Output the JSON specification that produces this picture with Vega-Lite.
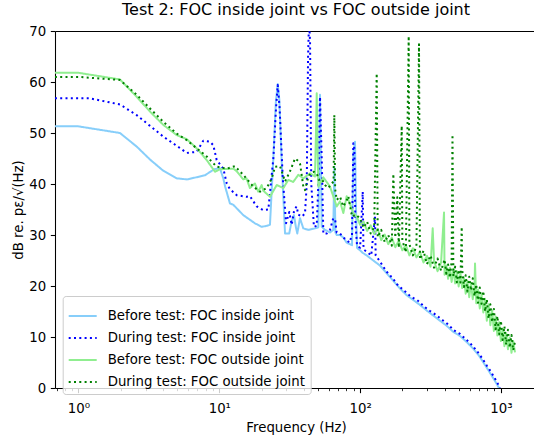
{
  "$schema": "https://vega.github.io/schema/vega-lite/v6.json",
  "width": 479,
  "height": 357,
  "autosize": {"type": "none"},
  "padding": {"left": 55, "top": 31, "right": 0, "bottom": 47},
  "background": "white",
  "title": {
    "text": "Test 2: FOC inside joint vs FOC outside joint",
    "font": "DejaVu Sans",
    "fontSize": 16,
    "fontWeight": "normal",
    "color": "black",
    "anchor": "middle",
    "frame": "group",
    "offset": 6.5,
    "dx": 1.5
  },
  "config": {
    "view": {"stroke": null},
    "font": "DejaVu Sans",
    "legend": {
      "orient": "none",
      "legendX": 7.7,
      "legendY": 265,
      "symbolType": "stroke",
      "symbolSize": 784,
      "symbolStrokeWidth": 2,
      "labelFont": "DejaVu Sans",
      "labelFontSize": 13.3,
      "labelColor": "black",
      "labelOffset": 10,
      "labelLimit": 320,
      "rowPadding": -1.1,
      "padding": 5,
      "fillColor": "rgba(255,255,255,0.8)",
      "strokeColor": "#cccccc",
      "cornerRadius": 3
    }
  },
  "datasets": {
    "spectra": [
      {"k": "A", "f": 0.68, "v": 51.3}, {"k": "A", "f": 1.0, "v": 51.3}, {"k": "A", "f": 1.97, "v": 50.0},
      {"k": "A", "f": 2.6, "v": 47.3}, {"k": "A", "f": 3.22, "v": 44.8}, {"k": "A", "f": 4.0, "v": 42.6},
      {"k": "A", "f": 5.0, "v": 41.1}, {"k": "A", "f": 5.9, "v": 40.9}, {"k": "A", "f": 7.9, "v": 41.7},
      {"k": "A", "f": 9.2, "v": 42.9}, {"k": "A", "f": 10.1, "v": 43.1}, {"k": "A", "f": 10.7, "v": 41.0},
      {"k": "A", "f": 11.0, "v": 39.5}, {"k": "A", "f": 11.9, "v": 36.2}, {"k": "A", "f": 12.6, "v": 35.9},
      {"k": "A", "f": 14.8, "v": 33.9}, {"k": "A", "f": 17.9, "v": 32.3}, {"k": "A", "f": 20.0, "v": 31.6},
      {"k": "A", "f": 21.7, "v": 31.8}, {"k": "A", "f": 22.9, "v": 32.0}, {"k": "A", "f": 24.2, "v": 45.0},
      {"k": "A", "f": 25.2, "v": 56.0}, {"k": "A", "f": 26.0, "v": 59.6}, {"k": "A", "f": 26.7, "v": 56.5},
      {"k": "A", "f": 27.7, "v": 44.7}, {"k": "A", "f": 29.3, "v": 30.3}, {"k": "A", "f": 31.4, "v": 30.3},
      {"k": "A", "f": 32.5, "v": 32.5}, {"k": "A", "f": 33.9, "v": 33.9}, {"k": "A", "f": 35.0, "v": 31.5},
      {"k": "A", "f": 35.8, "v": 30.3}, {"k": "A", "f": 37.4, "v": 33.3}, {"k": "A", "f": 39.5, "v": 31.3},
      {"k": "A", "f": 43.0, "v": 31.0}, {"k": "A", "f": 47.8, "v": 31.3}, {"k": "A", "f": 50.5, "v": 31.5},
      {"k": "A", "f": 51.9, "v": 57.5}, {"k": "A", "f": 53.4, "v": 31.6}, {"k": "A", "f": 56.3, "v": 31.0},
      {"k": "A", "f": 61.1, "v": 30.5}, {"k": "A", "f": 64.5, "v": 31.0}, {"k": "A", "f": 65.6, "v": 43.4},
      {"k": "A", "f": 66.8, "v": 30.5}, {"k": "A", "f": 68.2, "v": 30.0}, {"k": "A", "f": 72.0, "v": 30.0},
      {"k": "A", "f": 76.0, "v": 29.5}, {"k": "A", "f": 80.3, "v": 28.5}, {"k": "A", "f": 87.6, "v": 28.0},
      {"k": "A", "f": 89.5, "v": 46.0}, {"k": "A", "f": 92.0, "v": 48.3}, {"k": "A", "f": 93.5, "v": 35.0},
      {"k": "A", "f": 95.1, "v": 27.5}, {"k": "A", "f": 99.8, "v": 27.0}, {"k": "A", "f": 104.4, "v": 26.5},
      {"k": "A", "f": 111.4, "v": 26.0}, {"k": "A", "f": 124.1, "v": 25.0}, {"k": "A", "f": 138.5, "v": 24.0},
      {"k": "A", "f": 154.5, "v": 22.5}, {"k": "A", "f": 172.2, "v": 21.0}, {"k": "A", "f": 192, "v": 19.5},
      {"k": "A", "f": 214, "v": 18.2}, {"k": "A", "f": 240, "v": 17.2}, {"k": "A", "f": 266, "v": 16.3},
      {"k": "A", "f": 297, "v": 15.2}, {"k": "A", "f": 331, "v": 14.2}, {"k": "A", "f": 369, "v": 13.2},
      {"k": "A", "f": 412, "v": 12.2}, {"k": "A", "f": 459, "v": 11.0}, {"k": "A", "f": 512, "v": 10.2},
      {"k": "A", "f": 572, "v": 9.0}, {"k": "A", "f": 637, "v": 7.7}, {"k": "A", "f": 700, "v": 6.3},
      {"k": "A", "f": 793, "v": 4.0}, {"k": "A", "f": 870, "v": 2.2}, {"k": "A", "f": 934, "v": 0.8},
      {"k": "A", "f": 990, "v": -0.5},

      {"k": "B", "f": 0.68, "v": 56.8}, {"k": "B", "f": 1.2, "v": 56.8}, {"k": "B", "f": 1.97, "v": 55.6},
      {"k": "B", "f": 2.59, "v": 53.5}, {"k": "B", "f": 3.22, "v": 51.4}, {"k": "B", "f": 4.0, "v": 49.3},
      {"k": "B", "f": 4.98, "v": 47.5}, {"k": "B", "f": 5.87, "v": 46.1}, {"k": "B", "f": 6.91, "v": 46.3},
      {"k": "B", "f": 7.7, "v": 48.5}, {"k": "B", "f": 8.59, "v": 48.3}, {"k": "B", "f": 9.07, "v": 47.6},
      {"k": "B", "f": 9.58, "v": 44.7}, {"k": "B", "f": 10.68, "v": 43.0}, {"k": "B", "f": 11.3, "v": 40.1},
      {"k": "B", "f": 11.9, "v": 39.0}, {"k": "B", "f": 13.3, "v": 37.8}, {"k": "B", "f": 14.8, "v": 37.6},
      {"k": "B", "f": 15.65, "v": 37.5}, {"k": "B", "f": 16.52, "v": 37.6}, {"k": "B", "f": 18.44, "v": 35.6},
      {"k": "B", "f": 20.5, "v": 34.9}, {"k": "B", "f": 22.3, "v": 35.0}, {"k": "B", "f": 24.2, "v": 45.0},
      {"k": "B", "f": 25.3, "v": 55.0}, {"k": "B", "f": 26.0, "v": 59.4}, {"k": "B", "f": 26.8, "v": 55.0},
      {"k": "B", "f": 28.2, "v": 41.4}, {"k": "B", "f": 29.8, "v": 32.3}, {"k": "B", "f": 31.4, "v": 34.5},
      {"k": "B", "f": 32.7, "v": 32.0}, {"k": "B", "f": 34.0, "v": 34.8}, {"k": "B", "f": 35.4, "v": 35.6},
      {"k": "B", "f": 36.4, "v": 34.0}, {"k": "B", "f": 38.5, "v": 33.6}, {"k": "B", "f": 40.6, "v": 34.2},
      {"k": "B", "f": 41.8, "v": 40.0}, {"k": "B", "f": 42.7, "v": 65.0}, {"k": "B", "f": 43.4, "v": 72.0},
      {"k": "B", "f": 44.1, "v": 68.0}, {"k": "B", "f": 45.0, "v": 40.0}, {"k": "B", "f": 47.0, "v": 31.6},
      {"k": "B", "f": 49.2, "v": 31.8}, {"k": "B", "f": 50.5, "v": 40.0}, {"k": "B", "f": 51.9, "v": 57.1},
      {"k": "B", "f": 53.4, "v": 45.0}, {"k": "B", "f": 54.8, "v": 30.3}, {"k": "B", "f": 57.9, "v": 30.3},
      {"k": "B", "f": 61.1, "v": 31.0}, {"k": "B", "f": 64.5, "v": 33.3}, {"k": "B", "f": 66.5, "v": 33.0},
      {"k": "B", "f": 68.2, "v": 30.5}, {"k": "B", "f": 72.0, "v": 30.3}, {"k": "B", "f": 76.0, "v": 29.5},
      {"k": "B", "f": 80.3, "v": 29.0}, {"k": "B", "f": 84.0, "v": 28.5}, {"k": "B", "f": 87.6, "v": 30.0},
      {"k": "B", "f": 89.5, "v": 48.0}, {"k": "B", "f": 91.0, "v": 47.0}, {"k": "B", "f": 92.5, "v": 33.0},
      {"k": "B", "f": 95.1, "v": 28.0}, {"k": "B", "f": 97.1, "v": 27.7}, {"k": "B", "f": 100, "v": 27.5},
      {"k": "B", "f": 104.4, "v": 38.5}, {"k": "B", "f": 105.5, "v": 28.0}, {"k": "B", "f": 106.6, "v": 27.1},
      {"k": "B", "f": 114.4, "v": 26.5}, {"k": "B", "f": 120, "v": 26.0}, {"k": "B", "f": 127.6, "v": 33.6},
      {"k": "B", "f": 129, "v": 26.0}, {"k": "B", "f": 131.2, "v": 25.7}, {"k": "B", "f": 138.5, "v": 24.8},
      {"k": "B", "f": 146, "v": 23.8}, {"k": "B", "f": 154.5, "v": 22.8}, {"k": "B", "f": 164, "v": 22.0},
      {"k": "B", "f": 172, "v": 21.4}, {"k": "B", "f": 182, "v": 20.4}, {"k": "B", "f": 192, "v": 19.8},
      {"k": "B", "f": 203, "v": 19.2}, {"k": "B", "f": 214, "v": 18.7}, {"k": "B", "f": 227, "v": 18.0},
      {"k": "B", "f": 240, "v": 17.6}, {"k": "B", "f": 253, "v": 17.3}, {"k": "B", "f": 266, "v": 16.8},
      {"k": "B", "f": 281, "v": 16.1}, {"k": "B", "f": 297, "v": 15.6}, {"k": "B", "f": 314, "v": 15.1},
      {"k": "B", "f": 331, "v": 14.7}, {"k": "B", "f": 350, "v": 14.2}, {"k": "B", "f": 369, "v": 13.7},
      {"k": "B", "f": 390, "v": 13.2}, {"k": "B", "f": 412, "v": 12.7}, {"k": "B", "f": 435, "v": 12.1},
      {"k": "B", "f": 459, "v": 11.4}, {"k": "B", "f": 485, "v": 11.0}, {"k": "B", "f": 512, "v": 10.6},
      {"k": "B", "f": 541, "v": 10.0}, {"k": "B", "f": 572, "v": 9.4}, {"k": "B", "f": 604, "v": 8.8},
      {"k": "B", "f": 637, "v": 8.1}, {"k": "B", "f": 668, "v": 7.4}, {"k": "B", "f": 700, "v": 6.7},
      {"k": "B", "f": 745, "v": 5.6}, {"k": "B", "f": 793, "v": 4.4}, {"k": "B", "f": 830, "v": 3.6},
      {"k": "B", "f": 870, "v": 2.7}, {"k": "B", "f": 900, "v": 2.0}, {"k": "B", "f": 934, "v": 1.3},
      {"k": "B", "f": 960, "v": 0.6}, {"k": "B", "f": 990, "v": -0.3}, {"k": "B", "f": 1010, "v": -1.0},

      {"k": "C", "f": 0.68, "v": 61.8}, {"k": "C", "f": 1.0, "v": 61.8}, {"k": "C", "f": 1.97, "v": 60.5},
      {"k": "C", "f": 2.59, "v": 57.1}, {"k": "C", "f": 3.22, "v": 54.2}, {"k": "C", "f": 4.0, "v": 51.6},
      {"k": "C", "f": 4.98, "v": 49.6}, {"k": "C", "f": 5.87, "v": 48.8}, {"k": "C", "f": 6.91, "v": 47.0},
      {"k": "C", "f": 8.14, "v": 44.7}, {"k": "C", "f": 9.32, "v": 42.4}, {"k": "C", "f": 10.1, "v": 42.9},
      {"k": "C", "f": 12.6, "v": 43.0}, {"k": "C", "f": 13.3, "v": 42.5}, {"k": "C", "f": 14.8, "v": 40.9},
      {"k": "C", "f": 15.6, "v": 41.1}, {"k": "C", "f": 16.5, "v": 39.2}, {"k": "C", "f": 17.9, "v": 40.1},
      {"k": "C", "f": 18.9, "v": 38.5}, {"k": "C", "f": 20.0, "v": 39.8}, {"k": "C", "f": 20.5, "v": 38.7},
      {"k": "C", "f": 22.9, "v": 37.5}, {"k": "C", "f": 25.6, "v": 39.8}, {"k": "C", "f": 28.5, "v": 39.2},
      {"k": "C", "f": 30.9, "v": 40.8}, {"k": "C", "f": 33.5, "v": 40.4}, {"k": "C", "f": 36.4, "v": 41.8},
      {"k": "C", "f": 39.5, "v": 41.1}, {"k": "C", "f": 44.1, "v": 42.1}, {"k": "C", "f": 47.8, "v": 41.5},
      {"k": "C", "f": 48.6, "v": 50.0}, {"k": "C", "f": 49.2, "v": 57.8}, {"k": "C", "f": 49.8, "v": 48.0},
      {"k": "C", "f": 50.5, "v": 39.5}, {"k": "C", "f": 54.8, "v": 41.3}, {"k": "C", "f": 61.1, "v": 39.5},
      {"k": "C", "f": 68.2, "v": 35.6}, {"k": "C", "f": 72.0, "v": 36.6}, {"k": "C", "f": 76.0, "v": 34.3},
      {"k": "C", "f": 80.3, "v": 37.6}, {"k": "C", "f": 82.5, "v": 36.9}, {"k": "C", "f": 89.5, "v": 34.3},
      {"k": "C", "f": 95.0, "v": 33.5}, {"k": "C", "f": 100, "v": 32.0}, {"k": "C", "f": 105.9, "v": 32.6},
      {"k": "C", "f": 112.2, "v": 30.8}, {"k": "C", "f": 118.9, "v": 31.9}, {"k": "C", "f": 125.9, "v": 30.2},
      {"k": "C", "f": 133.4, "v": 31.2}, {"k": "C", "f": 141.3, "v": 29.0}, {"k": "C", "f": 149.6, "v": 30.1},
      {"k": "C", "f": 158.5, "v": 28.2}, {"k": "C", "f": 167.9, "v": 29.5}, {"k": "C", "f": 177.8, "v": 27.6},
      {"k": "C", "f": 188.4, "v": 28.9}, {"k": "C", "f": 199.5, "v": 27.0}, {"k": "C", "f": 211.3, "v": 28.0},
      {"k": "C", "f": 223.9, "v": 26.0}, {"k": "C", "f": 237.1, "v": 27.4}, {"k": "C", "f": 251.2, "v": 25.6},
      {"k": "C", "f": 266.1, "v": 26.7}, {"k": "C", "f": 281.8, "v": 24.6}, {"k": "C", "f": 298.5, "v": 25.9},
      {"k": "C", "f": 316.2, "v": 23.8}, {"k": "C", "f": 327.8, "v": 31.3}, {"k": "C", "f": 335, "v": 24.9},
      {"k": "C", "f": 354.8, "v": 22.9}, {"k": "C", "f": 375.8, "v": 24.6}, {"k": "C", "f": 394.5, "v": 34.4},
      {"k": "C", "f": 398.1, "v": 22.2}, {"k": "C", "f": 409.7, "v": 24.0}, {"k": "C", "f": 421.7, "v": 21.4},
      {"k": "C", "f": 434.1, "v": 23.6}, {"k": "C", "f": 446.7, "v": 20.8}, {"k": "C", "f": 459.8, "v": 23.4},
      {"k": "C", "f": 473.2, "v": 20.5}, {"k": "C", "f": 487, "v": 22.9}, {"k": "C", "f": 501.2, "v": 19.9},
      {"k": "C", "f": 515.8, "v": 22.5}, {"k": "C", "f": 530.9, "v": 19.6}, {"k": "C", "f": 546.4, "v": 21.6},
      {"k": "C", "f": 562.3, "v": 18.5}, {"k": "C", "f": 578.8, "v": 21.0}, {"k": "C", "f": 595.7, "v": 17.8},
      {"k": "C", "f": 613.1, "v": 20.6}, {"k": "C", "f": 631, "v": 17.4}, {"k": "C", "f": 649.4, "v": 19.5},
      {"k": "C", "f": 654.8, "v": 24.4}, {"k": "C", "f": 668.3, "v": 16.6}, {"k": "C", "f": 687.9, "v": 19.3},
      {"k": "C", "f": 707.9, "v": 15.6}, {"k": "C", "f": 728.6, "v": 18.3}, {"k": "C", "f": 749.9, "v": 14.8},
      {"k": "C", "f": 771.8, "v": 17.5}, {"k": "C", "f": 794.3, "v": 13.2}, {"k": "C", "f": 817.5, "v": 16.4},
      {"k": "C", "f": 841.4, "v": 12.3}, {"k": "C", "f": 865.9, "v": 15.2}, {"k": "C", "f": 891.3, "v": 11.2},
      {"k": "C", "f": 917.3, "v": 14.0}, {"k": "C", "f": 944.1, "v": 10.3}, {"k": "C", "f": 971.6, "v": 12.9},
      {"k": "C", "f": 1000, "v": 9.2}, {"k": "C", "f": 1029, "v": 11.6}, {"k": "C", "f": 1059, "v": 8.2},
      {"k": "C", "f": 1090, "v": 10.8}, {"k": "C", "f": 1122, "v": 7.6}, {"k": "C", "f": 1155, "v": 9.9},
      {"k": "C", "f": 1189, "v": 6.9}, {"k": "C", "f": 1223, "v": 9.2}, {"k": "C", "f": 1259, "v": 7.0},

      {"k": "D", "f": 0.68, "v": 61.0}, {"k": "D", "f": 1.0, "v": 61.0}, {"k": "D", "f": 1.97, "v": 60.4},
      {"k": "D", "f": 2.59, "v": 57.5}, {"k": "D", "f": 3.22, "v": 54.8}, {"k": "D", "f": 4.0, "v": 52.2},
      {"k": "D", "f": 4.98, "v": 49.9}, {"k": "D", "f": 5.87, "v": 48.6}, {"k": "D", "f": 6.91, "v": 47.0},
      {"k": "D", "f": 8.14, "v": 45.4}, {"k": "D", "f": 9.58, "v": 43.4}, {"k": "D", "f": 11.3, "v": 43.0},
      {"k": "D", "f": 12.9, "v": 43.5}, {"k": "D", "f": 14.8, "v": 41.8}, {"k": "D", "f": 17.4, "v": 39.5},
      {"k": "D", "f": 19.5, "v": 38.5}, {"k": "D", "f": 21.7, "v": 39.2}, {"k": "D", "f": 23.5, "v": 41.0},
      {"k": "D", "f": 24.9, "v": 43.4}, {"k": "D", "f": 27.0, "v": 43.5}, {"k": "D", "f": 29.3, "v": 40.5},
      {"k": "D", "f": 31.8, "v": 42.5}, {"k": "D", "f": 34.5, "v": 45.0}, {"k": "D", "f": 36.4, "v": 44.5},
      {"k": "D", "f": 37.5, "v": 43.9}, {"k": "D", "f": 39.5, "v": 39.5}, {"k": "D", "f": 40.6, "v": 38.8},
      {"k": "D", "f": 42.5, "v": 41.0}, {"k": "D", "f": 44.1, "v": 42.0}, {"k": "D", "f": 47.0, "v": 42.4},
      {"k": "D", "f": 49.2, "v": 42.1}, {"k": "D", "f": 51.0, "v": 40.8}, {"k": "D", "f": 53.4, "v": 41.0},
      {"k": "D", "f": 56.3, "v": 39.8}, {"k": "D", "f": 59.4, "v": 39.2}, {"k": "D", "f": 62.5, "v": 40.0},
      {"k": "D", "f": 64.8, "v": 40.5}, {"k": "D", "f": 65.6, "v": 53.5}, {"k": "D", "f": 66.5, "v": 39.0},
      {"k": "D", "f": 68.2, "v": 36.9}, {"k": "D", "f": 72.0, "v": 37.5}, {"k": "D", "f": 76.0, "v": 35.6},
      {"k": "D", "f": 80.3, "v": 36.8}, {"k": "D", "f": 82.5, "v": 37.6}, {"k": "D", "f": 87.6, "v": 33.6},
      {"k": "D", "f": 93.0, "v": 34.0}, {"k": "D", "f": 100, "v": 33.3}, {"k": "D", "f": 105.9, "v": 31.4},
      {"k": "D", "f": 112.2, "v": 32.6}, {"k": "D", "f": 118.9, "v": 30.3}, {"k": "D", "f": 125.9, "v": 31.5},
      {"k": "D", "f": 131.2, "v": 61.7}, {"k": "D", "f": 133.4, "v": 29.6}, {"k": "D", "f": 141.3, "v": 31.0},
      {"k": "D", "f": 149.6, "v": 28.6}, {"k": "D", "f": 158.5, "v": 30.0}, {"k": "D", "f": 167.9, "v": 27.9},
      {"k": "D", "f": 172.2, "v": 42.0}, {"k": "D", "f": 177.8, "v": 29.5}, {"k": "D", "f": 183.7, "v": 37.4},
      {"k": "D", "f": 188.4, "v": 27.5}, {"k": "D", "f": 197.5, "v": 51.4}, {"k": "D", "f": 199.5, "v": 29.0},
      {"k": "D", "f": 211.3, "v": 26.6}, {"k": "D", "f": 221.4, "v": 69.0}, {"k": "D", "f": 223.9, "v": 28.2},
      {"k": "D", "f": 237.1, "v": 26.0}, {"k": "D", "f": 251.2, "v": 27.8}, {"k": "D", "f": 262, "v": 67.4},
      {"k": "D", "f": 266.1, "v": 25.2}, {"k": "D", "f": 281.8, "v": 26.9}, {"k": "D", "f": 298.5, "v": 24.3},
      {"k": "D", "f": 316.2, "v": 26.0}, {"k": "D", "f": 335, "v": 23.6}, {"k": "D", "f": 354.8, "v": 25.4},
      {"k": "D", "f": 375.8, "v": 23.0}, {"k": "D", "f": 398.1, "v": 25.2}, {"k": "D", "f": 409.7, "v": 22.4},
      {"k": "D", "f": 421.7, "v": 24.2}, {"k": "D", "f": 434.1, "v": 21.6}, {"k": "D", "f": 446.7, "v": 24.8},
      {"k": "D", "f": 453, "v": 49.7}, {"k": "D", "f": 459.8, "v": 21.9}, {"k": "D", "f": 473.2, "v": 23.8},
      {"k": "D", "f": 487, "v": 20.7}, {"k": "D", "f": 501.2, "v": 23.2}, {"k": "D", "f": 515.8, "v": 20.7},
      {"k": "D", "f": 526.8, "v": 31.6}, {"k": "D", "f": 530.9, "v": 23.3}, {"k": "D", "f": 546.4, "v": 19.8},
      {"k": "D", "f": 562.3, "v": 22.1}, {"k": "D", "f": 578.8, "v": 18.9}, {"k": "D", "f": 595.7, "v": 21.8},
      {"k": "D", "f": 613.1, "v": 19.1}, {"k": "D", "f": 631, "v": 21.5}, {"k": "D", "f": 649.4, "v": 18.0},
      {"k": "D", "f": 668.3, "v": 20.3}, {"k": "D", "f": 687.9, "v": 16.7}, {"k": "D", "f": 707.9, "v": 19.7},
      {"k": "D", "f": 728.6, "v": 16.5}, {"k": "D", "f": 749.9, "v": 19.0}, {"k": "D", "f": 771.8, "v": 15.0},
      {"k": "D", "f": 794.3, "v": 17.4}, {"k": "D", "f": 817.5, "v": 13.6}, {"k": "D", "f": 841.4, "v": 16.4},
      {"k": "D", "f": 865.9, "v": 12.9}, {"k": "D", "f": 891.3, "v": 15.5}, {"k": "D", "f": 917.3, "v": 11.5},
      {"k": "D", "f": 944.1, "v": 14.1}, {"k": "D", "f": 971.6, "v": 10.5}, {"k": "D", "f": 1000, "v": 13.2},
      {"k": "D", "f": 1029, "v": 9.4}, {"k": "D", "f": 1059, "v": 12.1}, {"k": "D", "f": 1090, "v": 8.5},
      {"k": "D", "f": 1122, "v": 11.4}, {"k": "D", "f": 1155, "v": 7.9}, {"k": "D", "f": 1189, "v": 10.4},
      {"k": "D", "f": 1223, "v": 7.4}, {"k": "D", "f": 1259, "v": 9.1}
    ],
    "names": [
      {"k": "A", "series": "Before test: FOC inside joint"},
      {"k": "B", "series": "During test: FOC inside joint"},
      {"k": "C", "series": "Before test: FOC outside joint"},
      {"k": "D", "series": "During test: FOC outside joint"}
    ]
  },
  "layer": [
    {
      "data": {"name": "spectra"},
      "transform": [
        {"lookup": "k", "from": {"data": {"name": "names"}, "key": "k", "fields": ["series"]}}
      ],
      "mark": {"type": "line", "clip": true, "strokeWidth": 2, "strokeCap": "butt", "strokeJoin": "round"},
      "encoding": {
        "x": {
          "field": "f",
          "type": "quantitative",
          "scale": {"type": "log", "domain": [0.681, 1718], "nice": false},
          "axis": {
            "orient": "bottom",
            "values": [1, 10, 100, 1000],
            "labelExpr": "datum.value == 1 ? '10⁰' : datum.value == 10 ? '10¹' : datum.value == 100 ? '10²' : '10³'",
            "grid": false,
            "tickSize": 4.67,
            "tickWidth": 1.07,
            "tickColor": "black",
            "domainColor": "black",
            "domainWidth": 1.07,
            "labelFont": "DejaVu Sans",
            "labelFontSize": 13.3,
            "labelColor": "black",
            "labelBaseline": "alphabetic",
            "labelPadding": 20,
            "labelFlush": false,
            "labelOverlap": false,
            "title": "Frequency (Hz)",
            "titleFont": "DejaVu Sans",
            "titleFontSize": 13.3,
            "titleFontWeight": "normal",
            "titleColor": "black",
            "titleBaseline": "alphabetic",
            "titleAlign": "center",
            "titleX": 241,
            "titleY": 43
          }
        },
        "y": {
          "field": "v",
          "type": "quantitative",
          "scale": {"domain": [0, 70], "nice": false},
          "axis": {
            "values": [0, 10, 20, 30, 40, 50, 60, 70],
            "grid": false,
            "tickSize": 4.67,
            "tickWidth": 1.07,
            "tickColor": "black",
            "domainColor": "black",
            "domainWidth": 1.07,
            "labelFont": "DejaVu Sans",
            "labelFontSize": 13.3,
            "labelColor": "black",
            "labelPadding": 4.67,
            "labelFlush": false,
            "title": "dB re. pε/√(Hz)",
            "titleFont": "DejaVu Sans",
            "titleFontSize": 13.3,
            "titleFontWeight": "normal",
            "titleColor": "black",
            "titleAngle": -90,
            "titleAlign": "center",
            "titleBaseline": "alphabetic",
            "titleX": -32.3,
            "titleY": 178.5
          }
        },
        "color": {
          "field": "series",
          "type": "nominal",
          "scale": {
            "domain": ["Before test: FOC inside joint", "During test: FOC inside joint", "Before test: FOC outside joint", "During test: FOC outside joint"],
            "range": ["#87cefa", "#0000ff", "#90ee90", "#008000"]
          },
          "legend": {"title": null}
        },
        "strokeDash": {
          "field": "series",
          "type": "nominal",
          "scale": {
            "domain": ["Before test: FOC inside joint", "During test: FOC inside joint", "Before test: FOC outside joint", "During test: FOC outside joint"],
            "range": [[1, 0], [2, 3.3], [1, 0], [2, 3.3]]
          },
          "legend": {"title": null}
        }
      }
    },
    {
      "mark": {"type": "rule", "opacity": 0},
      "encoding": {
        "x": {
          "datum": 1,
          "type": "quantitative",
          "scale": {"type": "log", "domain": [0.681, 1718], "nice": false},
          "axis": {
            "orient": "bottom",
            "values": [0.7, 0.8, 0.9, 2, 3, 4, 5, 6, 7, 8, 9, 20, 30, 40, 50, 60, 70, 80, 90, 200, 300, 400, 500, 600, 700, 800, 900],
            "labels": false,
            "domain": false,
            "grid": false,
            "tickSize": 2.67,
            "tickWidth": 0.8,
            "tickColor": "black",
            "title": null
          }
        }
      }
    },
    {
      "mark": {"type": "rule", "opacity": 0},
      "encoding": {
        "x": {
          "datum": 1,
          "type": "quantitative",
          "scale": {"type": "log", "domain": [0.681, 1718], "nice": false},
          "axis": {
            "orient": "top",
            "labels": false,
            "ticks": false,
            "domain": true,
            "domainColor": "black",
            "domainWidth": 1.07,
            "grid": false,
            "title": null
          }
        }
      }
    }
  ],
  "resolve": {"axis": {"x": "independent"}}
}
